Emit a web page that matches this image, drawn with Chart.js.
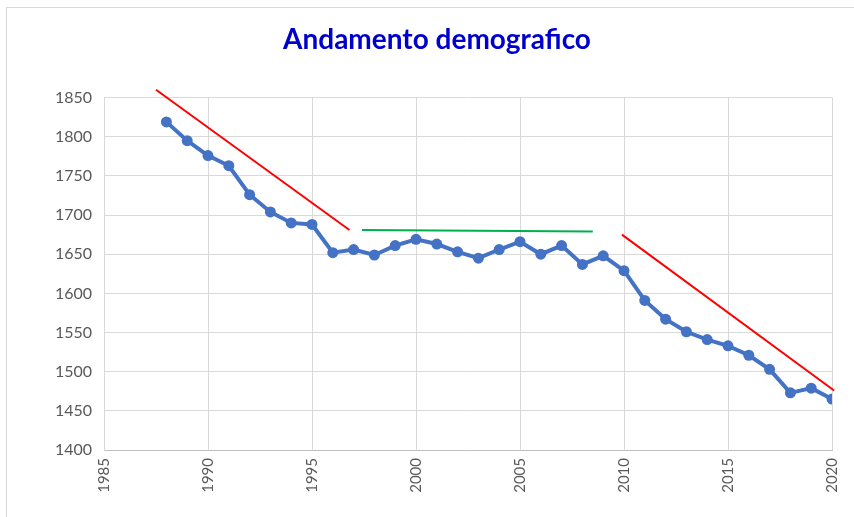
<!DOCTYPE html>
<html><head><meta charset="utf-8">
<script src="https://cdn.jsdelivr.net/npm/chart.js@4"></script>
<style>
html,body{margin:0;padding:0;background:#fff;}
#wrap{position:relative;width:854px;height:517px;}
#frame{position:absolute;left:6px;top:7px;width:900px;height:600px;border:1px solid #D9D9D9;pointer-events:none;}
canvas{position:absolute;left:0;top:0;}
</style></head>
<body>
<div id="wrap"><canvas id="c" width="854" height="517"></canvas><div id="frame"></div></div>
<script>
const years = [1988,1989,1990,1991,1992,1993,1994,1995,1996,1997,1998,1999,2000,2001,2002,2003,2004,2005,2006,2007,2008,2009,2010,2011,2012,2013,2014,2015,2016,2017,2018,2019,2020];
const population = [1819,1795,1776,1763,1726,1704,1690,1688,1652,1656,1649,1661,1669,1663,1653,1645,1656,1666,1650,1661,1637,1648,1629,1591,1567,1551,1541,1533,1521,1503,1473,1479,1465];
const trend1X = [1987.5, 1996.8];
const trend1Y = [1860, 1681];
const trend2X = [1997.4, 2008.5];
const trend2Y = [1681, 1679];
const trend3X = [2009.9, 2020.1];
const trend3Y = [1675, 1476];
const xTicks = [1985,1990,1995,2000,2005,2010,2015,2020];

const pts = (xs, ys) => xs.map((x,i)=>({x, y: ys[i]}));
const grid = '#D9D9D9';
const tickColor = '#595959';

new Chart(document.getElementById('c'), {
  type: 'line',
  data: {
    datasets: [
      {data: pts(years, population), borderColor:'#4472C4', backgroundColor:'#4472C4', borderWidth:4, pointRadius:5.5, pointHoverRadius:5.5, pointBorderWidth:0, tension:0},
      {data: pts(trend1X, trend1Y), borderColor:'#FF0000', borderWidth:2, pointRadius:0, clip:false},
      {data: pts(trend2X, trend2Y), borderColor:'#00B050', borderWidth:2, pointRadius:0, clip:false},
      {data: pts(trend3X, trend3Y), borderColor:'#FF0000', borderWidth:2, pointRadius:0, clip:false}
    ]
  },
  options: {
    responsive:false, animation:false,
    layout:{padding:{left:42,right:22,top:0,bottom:0}},
    plugins:{
      legend:{display:false},
      tooltip:{enabled:false},
      title:{display:true, text:'Andamento demografico', color:'#0000CC',
        font:{family:'Lato', size:28, weight:'bold'}, padding:{top:23, bottom:41}}
    },
    scales:{
      x:{type:'linear', min:1985, max:2020,
        afterBuildTicks: s => { s.ticks = xTicks.map(v=>({value:v})); },
        afterFit: s => { s.height = 67; s.paddingRight = 0; s.paddingLeft = 0; },
        grid:{color:grid, lineWidth:1, drawTicks:false},
        border:{color:'#BFBFBF', width:1},
        ticks:{color:tickColor, font:{family:'Lato', size:15}, minRotation:90, maxRotation:90, padding:8, autoSkip:false,
          callback: v => String(v)}
      },
      y:{min:1400, max:1850,
        afterBuildTicks: s => { const t=[]; for(let v=1400; v<=1850; v+=50) t.push({value:v}); s.ticks=t; },
        afterFit: s => { s.width = 62; s.paddingTop = 0; s.paddingBottom = 0; },
        grid:{color:grid, lineWidth:1, drawTicks:false},
        border:{color:grid, width:1},
        ticks:{color:tickColor, font:{family:'Lato', size:16}, padding:12, callback: v => String(v)}
      }
    }
  }
});
</script>
</body></html>
